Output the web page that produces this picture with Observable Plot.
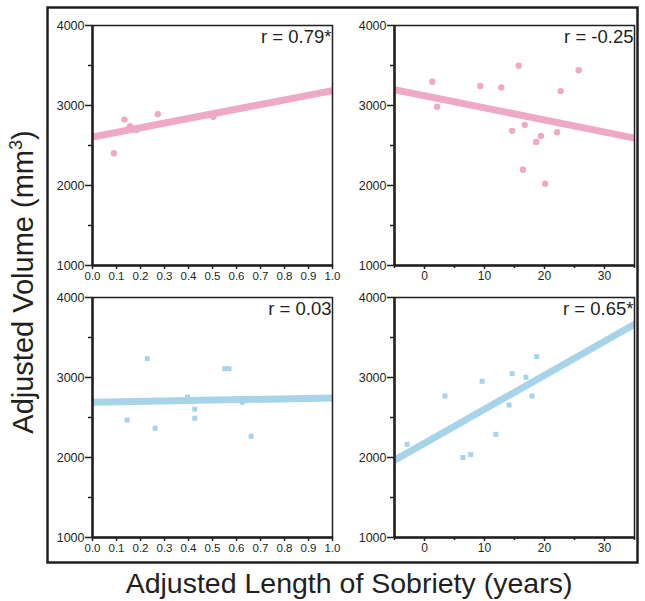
<!DOCTYPE html>
<html>
<head>
<meta charset="utf-8">
<script src="https://cdn.jsdelivr.net/npm/d3@7"></script>
<script src="https://cdn.jsdelivr.net/npm/@observablehq/plot@0.6"></script>
<style>
  html, body { margin: 0; padding: 0; background: #fff; }
  #wrap { position: relative; width: 645px; height: 601px; font-family: "Liberation Sans", Arial, sans-serif; color: #231f20; }
  #wrap > * { position: absolute; }
</style>
</head>
<body>
<div id="wrap"></div>
<script>
// ---- data ----
const yTicks = [1000, 2000, 3000, 4000];
const yMinor = [1500, 2500, 3500];
const fracTicks = [0, 0.1, 0.2, 0.3, 0.4, 0.5, 0.6, 0.7, 0.8, 0.9, 1.0];
const yearTicks = [0, 10, 20, 30];
const yearMinor = [-5, 5, 15, 25, 35];
const fracDomain = [0, 1];
const yearDomain = [-5, 35];

// top-left (pink, fraction of life sober)
const tlX = [0.089, 0.133, 0.156, 0.183, 0.272, 0.503, 0.892];
const tlY = [2403, 2824, 2741, 2695, 2892, 2858, 3118];
const tlFit = [2607, 3185];
const tlLabel = "r = 0.79*";

// top-right (pink, years)
const trX = [1.3, 2.1, 9.3, 12.8, 15.7, 14.6, 16.7, 16.4, 18.6, 19.4, 20.1, 22.1, 22.7, 25.7];
const trY = [3297, 2984, 3243, 3226, 3498, 2683, 2758, 2197, 2545, 2620, 2022, 2666, 3180, 3440];
const trFit = [3197, 2592];
const trLabel = "r = -0.25";

// bottom-left (blue, fraction)
const blX = [0.144, 0.228, 0.261, 0.396, 0.426, 0.426, 0.551, 0.569, 0.624, 0.661];
const blY = [2467, 3236, 2366, 2757, 2605, 2491, 3110, 3110, 2690, 2265];
const blFit = [2690, 2744];
const blLabel = "r = 0.03";

// bottom-right (blue, years)
const brX = [-2.9, 3.4, 6.4, 7.7, 9.6, 11.9, 14.1, 14.6, 16.9, 17.9, 18.7];
const brY = [2164, 2769, 2000, 2038, 2953, 2290, 2656, 3047, 3004, 2769, 3261];
const brFit = [1966, 3665];
const brLabel = "r = 0.65*";

const pink = "#eea9c7";
const blue = "#a8d4ea";
const ink = "#231f20";

const wrap = document.getElementById("wrap");

function panel({xs, ys, xDomain, xTicks, xMinor, xFormat, xFont, fit, color, symbol, r, label, left, top}) {
  const data = xs.map((v, i) => ({x: v, y: ys[i]}));
  const fitData = xDomain.map((v, i) => ({x: v, y: fit[i]}));
  const marks = [
    Plot.dot(data, {x: "x", y: "y", fill: color, r, symbol}),
    Plot.line(fitData, {x: "x", y: "y", stroke: color, strokeWidth: 7, clip: true}),
    Plot.frame({stroke: ink, strokeWidth: 1.5}),
    Plot.ruleX([xDomain[0]], {stroke: ink, strokeWidth: 2.5}),
    Plot.ruleY([1000], {stroke: ink, strokeWidth: 2.5}),
    Plot.axisY({ticks: yTicks, tickSize: 7, tickPadding: 1, tickFormat: d => String(d), fontSize: 12.5, stroke: ink, strokeWidth: 1.5, fill: ink, label: null}),
    Plot.axisY({ticks: yMinor, tickSize: 4, tickFormat: () => "", stroke: ink, strokeWidth: 1.5, label: null}),
    Plot.axisX({ticks: xTicks, tickSize: 4, tickPadding: 2, tickFormat: xFormat, fontSize: xFont, stroke: ink, strokeWidth: 1.5, fill: ink, label: null}),
    Plot.text([label], {text: d => d, frameAnchor: "top-right", dx: -1, dy: 4, fontSize: 18.5, fill: ink})
  ];
  if (xMinor) marks.push(Plot.axisX({ticks: xMinor, tickSize: 3, tickFormat: () => "", stroke: ink, strokeWidth: 1.5, label: null}));
  const p = Plot.plot({
    width: 300, height: 275,
    marginLeft: 45, marginRight: 15, marginTop: 10, marginBottom: 25,
    x: {domain: xDomain},
    y: {domain: [1000, 4000]},
    style: {fontFamily: "'Liberation Sans', Arial, sans-serif", fontSize: "12px", background: "transparent", overflow: "visible", color: ink},
    marks
  });
  p.style.left = left + "px";
  p.style.top = top + "px";
  wrap.appendChild(p);
}

const fracFmt = d => d.toFixed(1);
const yearFmt = d => String(d);

panel({xs: tlX, ys: tlY, xDomain: fracDomain, xTicks: fracTicks, xFormat: fracFmt, xFont: 11.5, fit: tlFit, color: pink, symbol: "circle", r: 3.2, label: tlLabel, left: 47, top: 15});
panel({xs: trX, ys: trY, xDomain: yearDomain, xTicks: yearTicks, xMinor: yearMinor, xFormat: yearFmt, xFont: 12, fit: trFit, color: pink, symbol: "circle", r: 3.2, label: trLabel, left: 349, top: 15});
panel({xs: blX, ys: blY, xDomain: fracDomain, xTicks: fracTicks, xFormat: fracFmt, xFont: 11.5, fit: blFit, color: blue, symbol: "square", r: 2.8, label: blLabel, left: 47, top: 287});
panel({xs: brX, ys: brY, xDomain: yearDomain, xTicks: yearTicks, xMinor: yearMinor, xFormat: yearFmt, xFont: 12, fit: brFit, color: blue, symbol: "square", r: 2.8, label: brLabel, left: 349, top: 287});

// outer frame and axis titles
const svg = d3.create("svg").attr("width", 645).attr("height", 601)
  .style("left", "0px").style("top", "0px").style("pointer-events", "none")
  .style("font-family", "'Liberation Sans', Arial, sans-serif");
svg.append("rect").attr("x", 47.5).attr("y", 7.5).attr("width", 590).attr("height", 555)
  .attr("fill", "none").attr("stroke", ink).attr("stroke-width", 2.5);
const yt = svg.append("text").attr("transform", "translate(33,282) rotate(-90)")
  .attr("text-anchor", "middle").attr("font-size", 29).attr("fill", ink);
yt.append("tspan").text("Adjusted Volume (mm");
yt.append("tspan").attr("font-size", 18).attr("dy", -11).text("3");
yt.append("tspan").attr("dy", 11).text(")");
svg.append("text").attr("x", 349).attr("y", 593).attr("text-anchor", "middle")
  .attr("font-size", 28.5).attr("fill", ink).text("Adjusted Length of Sobriety (years)");
wrap.appendChild(svg.node());
</script>
</body>
</html>
